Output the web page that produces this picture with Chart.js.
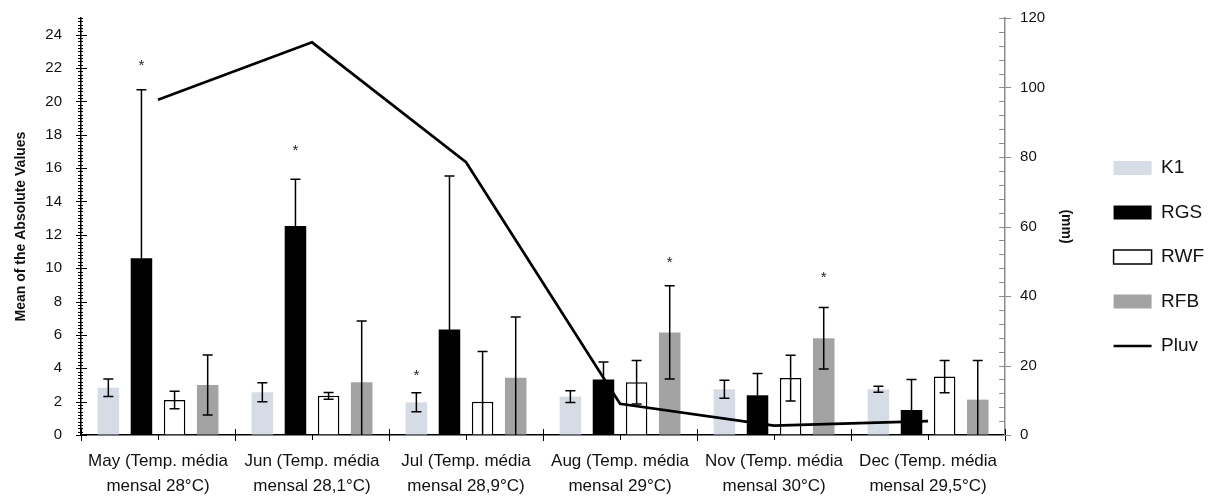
<!DOCTYPE html>
<html lang="en">
<head>
  <meta charset="UTF-8">
  <title>Mean of the Absolute Values and Pluv</title>
  <script src="https://cdn.jsdelivr.net/npm/chart.js"></script>
  <style>
    html, body {
      margin: 0;
      padding: 0;
      background: #fff;
    }
    #wrap {
      width: 1218px;
      height: 496px;
    }
  </style>
</head>
<body>
  <div id="wrap"><canvas id="chart"></canvas></div>

  <script>
    const categories = [
      ['May (Temp. média', 'mensal 28°C)'],
      ['Jun (Temp. média', 'mensal 28,1°C)'],
      ['Jul (Temp. média', 'mensal 28,9°C)'],
      ['Aug (Temp. média', 'mensal 29°C)'],
      ['Nov (Temp. média', 'mensal 30°C)'],
      ['Dec (Temp. média', 'mensal 29,5°C)']
    ];

    const k1     = [2.83, 2.56, 1.96, 2.30, 2.74, 2.74];
    const k1Err  = [0.52, 0.57, 0.57, 0.35, 0.54, 0.18];
    const rgs    = [10.6, 12.53, 6.33, 3.33, 2.38, 1.50];
    const rgsErr = [10.1, 2.80, 9.20, 1.04, 1.30, 1.83];
    const rwf    = [2.10, 2.35, 2.00, 3.16, 3.41, 3.50];
    const rwfErr = [0.52, 0.20, 3.00, 1.30, 1.37, 0.97];
    const rfb    = [3.00, 3.16, 3.43, 6.15, 5.80, 2.12];
    const rfbErr = [1.80, 3.67, 3.65, 2.80, 1.85, 2.35];
    const pluv   = [96.5, 113, 78.5, 9, 2.7, 4];

    // asterisks: which series, which month, and at what height (left axis units)
    const starSeries = [1, 1, 0, 3, 3];
    const starIndex  = [0, 1, 2, 3, 4];
    const starValue  = [22.4, 17.3, 3.85, 10.6, 9.7];

    const leftTicks  = [0, 2, 4, 6, 8, 10, 12, 14, 16, 18, 20, 22, 24];
    const rightTicks = [0, 20, 40, 60, 80, 100, 120];

    const errors = [k1Err, rgsErr, rwfErr, rfbErr];

    Chart.defaults.font.family = '"Liberation Sans", Arial, sans-serif';
    Chart.defaults.color = '#111';

    // error bars + asterisks drawn from the bar elements
    const errorBars = {
      id: 'errorBars',
      afterDatasetsDraw(chart) {
        const { ctx } = chart;
        const y = chart.scales.y;
        ctx.save();
        ctx.strokeStyle = '#000';
        ctx.lineWidth = 1.5;
        errors.forEach((errs, d) => {
          const meta = chart.getDatasetMeta(d);
          const vals = chart.data.datasets[d].data;
          meta.data.forEach((bar, i) => {
            const top = y.getPixelForValue(vals[i] + errs[i]);
            const lowVal = vals[i] - errs[i];
            const bot = y.getPixelForValue(Math.max(0, lowVal));
            ctx.beginPath();
            ctx.moveTo(bar.x, top);
            ctx.lineTo(bar.x, bot);
            ctx.moveTo(bar.x - 5, top);
            ctx.lineTo(bar.x + 5, top);
            if (lowVal > 0) {
              ctx.moveTo(bar.x - 5, bot);
              ctx.lineTo(bar.x + 5, bot);
            }
            ctx.stroke();
          });
        });
        ctx.fillStyle = '#222';
        ctx.font = '15px "Liberation Sans", Arial, sans-serif';
        ctx.textAlign = 'center';
        ctx.textBaseline = 'alphabetic';
        starSeries.forEach((d, k) => {
          const bar = chart.getDatasetMeta(d).data[starIndex[k]];
          ctx.fillText('*', bar.x, y.getPixelForValue(starValue[k]) + 9);
        });
        ctx.restore();
      }
    };

    // Excel-like major/minor tick marks on the axes
    const axisTicks = {
      id: 'axisTicks',
      afterDraw(chart) {
        const { ctx, chartArea: a } = chart;
        const { x, y, y1 } = chart.scales;
        ctx.save();
        ctx.lineWidth = 1;

        ctx.strokeStyle = '#000';
        ctx.beginPath();
        for (let i = 0; i <= 125; i++) {
          const py = Math.round(y.getPixelForValue(i / 5)) + 0.5;
          const major = i % 10 === 0;
          ctx.moveTo(a.left - (major ? 5 : 3), py);
          ctx.lineTo(a.left + (major ? 6 : 2), py);
        }
        for (let i = 0; i <= categories.length; i++) {
          const px = Math.round(x.getPixelForValue(i - 0.5)) + 0.5;
          ctx.moveTo(px, a.bottom - 6);
          ctx.lineTo(px, a.bottom + 6);
        }
        for (let i = 0; i < categories.length; i++) {
          const px = Math.round(x.getPixelForValue(i)) + 0.5;
          ctx.moveTo(px, a.bottom);
          ctx.lineTo(px, a.bottom + 5);
        }
        ctx.stroke();

        ctx.strokeStyle = '#8c8c8c';
        ctx.beginPath();
        for (let v = 0; v <= 120; v += 4) {
          const py = Math.round(y1.getPixelForValue(v)) + 0.5;
          const major = v % 20 === 0;
          ctx.moveTo(a.right - 6, py);
          ctx.lineTo(a.right + (major ? 6 : 0), py);
        }
        ctx.stroke();
        ctx.restore();
      }
    };

    new Chart(document.getElementById('chart'), {
      type: 'bar',
      data: {
        labels: categories,
        datasets: [
          { label: 'K1', data: k1, backgroundColor: '#d5dce6', pointStyle: 'rect', yAxisID: 'y' },
          { label: 'RGS', data: rgs, backgroundColor: '#000', pointStyle: 'rect', yAxisID: 'y' },
          { label: 'RWF', data: rwf, backgroundColor: '#fff', borderColor: '#000', borderWidth: 1.5, pointStyle: 'rect', yAxisID: 'y' },
          { label: 'RFB', data: rfb, backgroundColor: '#a3a3a3', pointStyle: 'rect', yAxisID: 'y' },
          {
            type: 'line', label: 'Pluv', data: pluv, yAxisID: 'y1', order: -1,
            borderColor: '#000', borderWidth: 2.7, borderJoinStyle: 'miter',
            pointRadius: 0, pointStyle: 'line', pointBorderColor: '#000', pointBorderWidth: 2.5,
            fill: false, tension: 0
          }
        ]
      },
      options: {
        responsive: true,
        maintainAspectRatio: false,
        animation: false,
        datasets: { bar: { categoryPercentage: 0.86, barPercentage: 0.65 } },
        layout: { padding: { top: 18, right: 4, left: 0, bottom: 0 } },
        plugins: {
          tooltip: { enabled: false },
          legend: {
            position: 'right',
            maxWidth: 133,
            labels: {
              usePointStyle: true,
              pointStyleWidth: 38,
              boxHeight: 14,
              padding: 25.5,
              color: '#111',
              font: { size: 19 },
              sort: (a, b) => a.datasetIndex - b.datasetIndex
            }
          }
        },
        scales: {
          x: {
            offset: true,
            afterFit: s => { s.height = 61; },
            grid: { display: true, drawOnChartArea: false, drawTicks: false },
            border: { color: '#000', width: 1.5 },
            ticks: { autoSkip: false, maxRotation: 0, minRotation: 0, padding: 14, color: '#111',
                     font: { size: 17, lineHeight: 1.45 } }
          },
          y: {
            position: 'left',
            min: 0, max: 25,
            afterBuildTicks: s => { s.ticks = leftTicks.map(v => ({ value: v })); },
            afterFit: s => { s.width = 81; s.paddingTop = 0; s.paddingBottom = 0; },
            grid: { display: true, drawOnChartArea: false, drawTicks: false },
            border: { color: '#000', width: 1.5 },
            ticks: { padding: 19, color: '#111', font: { size: 15 } },
            title: { display: true, text: 'Mean of the Absolute Values', color: '#111',
                     font: { size: 14, weight: 'bold' }, padding: { top: 13, bottom: 0 } }
          },
          y1: {
            position: 'right',
            min: 0, max: 120,
            afterBuildTicks: s => { s.ticks = rightTicks.map(v => ({ value: v })); },
            afterFit: s => { s.width = 83; s.paddingTop = 0; s.paddingBottom = 0; },
            grid: { display: true, drawOnChartArea: false, drawTicks: false },
            border: { color: '#8c8c8c', width: 1.5 },
            ticks: { padding: 15, color: '#111', font: { size: 15 } },
            title: { display: true, text: '(mm)', color: '#111',
                     font: { size: 14, weight: 'bold' }, padding: { top: 13.6, bottom: 4 } }
          }
        }
      },
      plugins: [errorBars, axisTicks]
    });
  </script>
</body>
</html>
